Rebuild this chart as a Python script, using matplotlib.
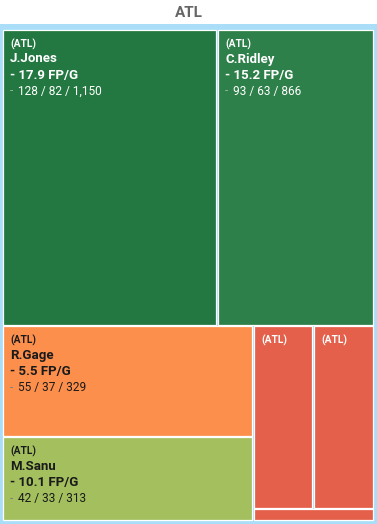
import matplotlib.pyplot as plt
from matplotlib.patches import Rectangle

plt.rcParams['font.family'] = ['Roboto', 'DejaVu Sans']

# data
team = "ATL"
players = ["J.Jones", "C.Ridley", "R.Gage", "M.Sanu", "", "", ""]
fp_per_game = [17.9, 15.2, 5.5, 10.1, None, None, None]
stat_lines = ["128 / 82 / 1,150", "93 / 63 / 866", "55 / 37 / 329", "42 / 33 / 313", "", "", ""]
sizes = [60450, 44100, 26400, 20100, 10400, 10550, 1400]
colors = ["#237841", "#2e804a", "#fc8f4c", "#a3bf5e", "#e4604a", "#e4604a", "#e4604a"]
dark_text = [False, False, True, True, False, False, False]

# how the tiles are grouped: "v" stacks children top to bottom, "h" puts them side by side
tree = ("v", [("h", [0, 1]),
              ("h", [("v", [2, 3]),
                     ("v", [("h", [4, 5]), 6])])])


def total(node):
    if isinstance(node, int):
        return sizes[node]
    return sum(total(c) for c in node[1])


def layout(node, x, y, w, h, out):
    if isinstance(node, int):
        out[node] = (x, y, w, h)
        return
    direction, children = node
    tot = total(node)
    pos = 0
    for c in children:
        frac = total(c) / tot
        if direction == "h":
            layout(c, x + pos * w, y, frac * w, h, out)
        else:
            layout(c, x, y + pos * h, w, frac * h, out)
        pos += frac


W, H = 377, 524
fig = plt.figure(figsize=(W / 100, H / 100), dpi=100)
ax = fig.add_axes([0, 0, 1, 1])
ax.set_xlim(0, W)
ax.set_ylim(H, 0)
ax.axis("off")

# blue frame behind the tiles
ax.add_patch(Rectangle((0, 24), W, H - 24, facecolor="#aadef8", edgecolor="none"))
ax.text(W / 2, 13, team, ha="center", va="center", fontsize=11, fontweight="bold", color="#666666")

rects = {}
layout(tree, 2, 29, 372, 492, rects)

for i in range(len(sizes)):
    x, y, w, h = rects[i]
    ax.add_patch(Rectangle((x + 0.5, y + 0.5), w - 1.5, h - 1.5, facecolor=colors[i],
                           edgecolor="white", linewidth=0.9))
    if h < 25:
        continue
    tc = "#1a1a1a" if dark_text[i] else "white"
    dash_c = "#7d7d7d" if dark_text[i] else "#8fb39c"
    tx = x + 8
    ax.text(tx, y + 15, "(" + team + ")", fontsize=7.4, fontweight="bold", color=tc, va="center")
    if players[i]:
        ax.text(tx, y + 30, players[i], fontsize=9.5, fontweight="bold", color=tc, va="center")
        ax.text(tx, y + 46, "- %.1f FP/G" % fp_per_game[i], fontsize=9.5, fontweight="bold",
                color=tc, va="center")
        ax.text(tx, y + 62, "-", fontsize=8.5, color=dash_c, va="center")
        ax.text(tx + 8, y + 62, stat_lines[i], fontsize=8.6, color=tc, va="center")

fig.savefig("out.png", dpi=100)
